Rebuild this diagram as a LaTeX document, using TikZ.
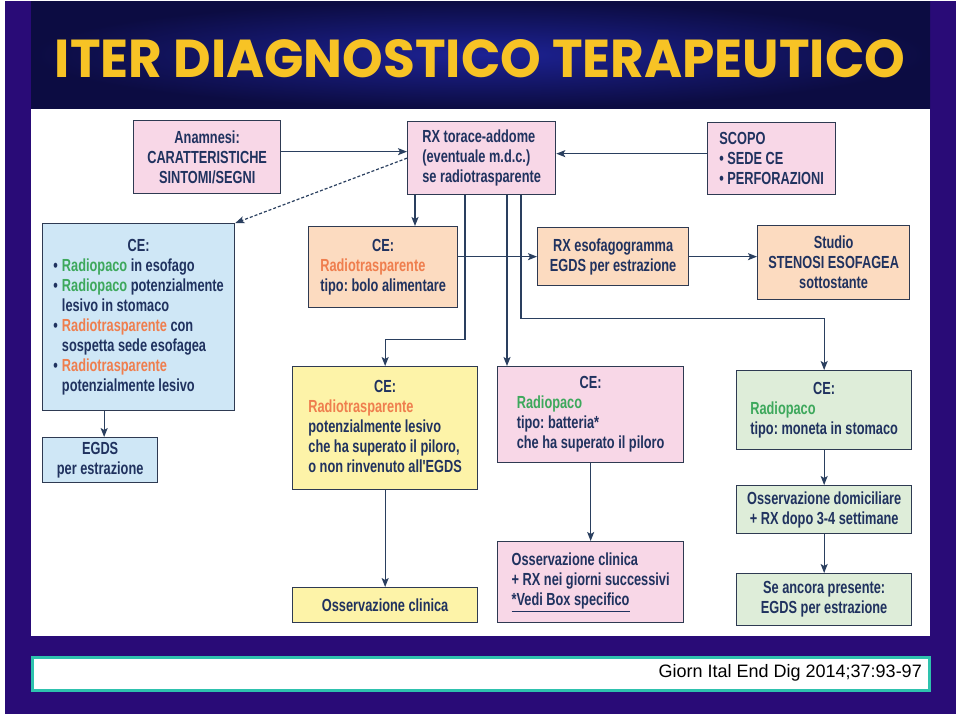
\documentclass[tikz,border=0pt]{standalone}
\usepackage{fontspec}
\setmainfont{Liberation Sans}
\newfontfamily\condf{Liberation Sans}[FakeStretch=0.73]
\newfontfamily\titlef{Poppins}
\usetikzlibrary{arrows.meta,calc}
\definecolor{purpbg}{HTML}{290B77}
\definecolor{titledark}{HTML}{0C0C42}
\definecolor{titlemid}{HTML}{1D2294}
\definecolor{titleyel}{HTML}{F7C325}
\definecolor{navyT}{HTML}{20325F}
\definecolor{bordc}{HTML}{2E3A52}
\definecolor{arrc}{HTML}{2A3F5F}
\definecolor{pinkF}{HTML}{F8D7E7}
\definecolor{blueF}{HTML}{CFE7F6}
\definecolor{peachF}{HTML}{FCDBC0}
\definecolor{yellF}{HTML}{FDF3A8}
\definecolor{greenF}{HTML}{DEEDD9}
\definecolor{greenT}{HTML}{3DA85C}
\definecolor{oranT}{HTML}{EF7E4E}
\definecolor{tealB}{HTML}{2EC2AE}
\frenchspacing
\begin{document}
\begin{tikzpicture}[x=1pt,y=-1pt,
  box/.style={draw=bordc, line width=1.3pt, inner sep=0pt, anchor=north west,
    font=\condf\bfseries\fontsize{17.5}{20}\selectfont, text=navyT},
  arr/.style={draw=arrc, line width=1.2pt, -{Stealth[length=9pt,width=7pt,inset=2pt]}}]
\useasboundingbox (0,0) rectangle (960,716);
\fill[white] (0,0) rectangle (960,716);
\fill[purpbg] (5,1) rectangle (956,714);
\shade[inner color=titlemid, outer color=titledark] (31,1) rectangle (930,108);
\fill[white] (31,109) rectangle (930,636);
\node[text=titleyel, inner sep=0pt] (title) at (480,59)
  {\resizebox{850pt}{38pt}{\titlef\bfseries ITER DIAGNOSTICO TERAPEUTICO}};

% top row
\node[box, fill=pinkF, minimum width=147pt, minimum height=73pt, align=center] (anam) at (133,120)
  {Anamnesi:\\CARATTERISTICHE\\SINTOMI/SEGNI};
\node[box, fill=pinkF, minimum width=148pt, minimum height=73pt, align=left] (rx) at (407,121)
  {RX torace-addome\\(eventuale m.d.c.)\\se radiotrasparente};
\node[box, fill=pinkF, minimum width=128pt, minimum height=72pt, align=left] (scopo) at (707,122)
  {SCOPO\\\textbullet\ SEDE CE\\\textbullet\ PERFORAZIONI};

% blue column
\node[box, fill=blueF, minimum width=192pt, minimum height=187pt] (blue) at (42,223)
  {\begin{tabular}{@{}l@{\hspace{4pt}}l@{}}
   \multicolumn{2}{c}{CE:}\\
   \textbullet & \textcolor{greenT}{Radiopaco} in esofago\\
   \textbullet & \textcolor{greenT}{Radiopaco} potenzialmente\\
    & lesivo in stomaco\\
   \textbullet & \textcolor{oranT}{Radiotrasparente} con\\
    & sospetta sede esofagea\\
   \textbullet & \textcolor{oranT}{Radiotrasparente}\\
    & potenzialmente lesivo
   \end{tabular}};
\node[box, fill=blueF, minimum width=115pt, minimum height=45pt, align=center] (egds) at (42,437)
  {EGDS\\per estrazione};

% peach row
\node[box, fill=peachF, minimum width=149pt, minimum height=81pt] (orange) at (308,226)
  {\begin{tabular}{@{}l@{}}
   \multicolumn{1}{@{}c@{}}{CE:}\\
   \textcolor{oranT}{Radiotrasparente}\\
   tipo: bolo alimentare
   \end{tabular}};
\node[box, fill=peachF, minimum width=151pt, minimum height=58pt, align=center] (rxe) at (537,227)
  {RX esofagogramma\\EGDS per estrazione};
\node[box, fill=peachF, minimum width=152pt, minimum height=74pt, align=center] (studio) at (757,225)
  {Studio\\STENOSI ESOFAGEA\\sottostante};

% yellow column
\node[box, fill=yellF, minimum width=185pt, minimum height=123pt] (yellow) at (292,366)
  {\begin{tabular}{@{}l@{}}
   \multicolumn{1}{@{}c@{}}{CE:}\\
   \textcolor{oranT}{Radiotrasparente}\\
   potenzialmente lesivo\\
   che ha superato il piloro,\\
   o non rinvenuto all'EGDS
   \end{tabular}};
\node[box, fill=yellF, minimum width=185pt, minimum height=35pt, align=center] (yobs) at (292,587)
  {Osservazione clinica};

% pink column
\node[box, fill=pinkF, minimum width=186pt, minimum height=96pt] (pinkce) at (497,366)
  {\begin{tabular}{@{}l@{}}
   \multicolumn{1}{@{}c@{}}{CE:}\\
   \textcolor{greenT}{Radiopaco}\\
   tipo: batteria*\\
   che ha superato il piloro
   \end{tabular}};
\node[box, fill=pinkF, minimum width=186pt, minimum height=81pt, align=left] (pobs) at (497,541)
  {Osservazione clinica\\+ RX nei giorni successivi\\\underline{*Vedi Box specifico}};

% green column
\node[box, fill=greenF, minimum width=175pt, minimum height=79pt] (greence) at (736,370)
  {\begin{tabular}{@{}l@{}}
   \multicolumn{1}{@{}c@{}}{CE:}\\
   \textcolor{greenT}{Radiopaco}\\
   tipo: moneta in stomaco
   \end{tabular}};
\node[box, fill=greenF, minimum width=175pt, minimum height=48pt, align=center] (gdom) at (736,485)
  {Osservazione domiciliare\\+ RX dopo 3-4 settimane};
\node[box, fill=greenF, minimum width=175pt, minimum height=52pt, align=center] (gse) at (736,573)
  {Se ancora presente:\\EGDS per estrazione};

% connectors
\draw[arr] ([yshift=5.5pt]anam.east) -- ([yshift=5.5pt]anam.east -| rx.west);
\draw[arr] ([yshift=5pt]scopo.west) -- ([yshift=5pt]scopo.west -| rx.east);
\draw[arr, dash pattern=on 3pt off 2pt] (rx.west) -- (blue.north east);
\draw[arr] ([xshift=8pt]rx.south west) -- ([xshift=8pt]rx.south west |- orange.north);
\draw[arr] ([xshift=58pt]rx.south west) -- ++(0,144) -| (yellow.north);
\draw[arr] ([xshift=100pt]rx.south west) -- ([xshift=100pt]rx.south west |- pinkce.north);
\draw[arr] ([xshift=114pt]rx.south west) -- ++(0,123) -| (greence.north);
\draw[arr] (orange.east |- rxe.west) -- (rxe.west);
\draw[arr] (rxe.east) -- (rxe.east -| studio.west);
\draw[arr] ([xshift=4pt]blue.south -| egds.north) -- ([xshift=4pt]egds.north);
\draw[arr] (yellow.south) -- (yobs.north);
\draw[arr] (pinkce.south) -- (pobs.north);
\draw[arr] (greence.south) -- (gdom.north);
\draw[arr] (gdom.south) -- (gse.north);

% footer
\node[draw=tealB, line width=2.5pt, fill=white, minimum width=897pt, minimum height=33pt,
  inner sep=0pt, anchor=north west] (foot) at (31,656) {};
\node[anchor=east, inner sep=0pt, font=\fontsize{18}{20}\selectfont] (cite) at (922,673)
  {Giorn Ital End Dig 2014;37:93-97};
\end{tikzpicture}
\end{document}
